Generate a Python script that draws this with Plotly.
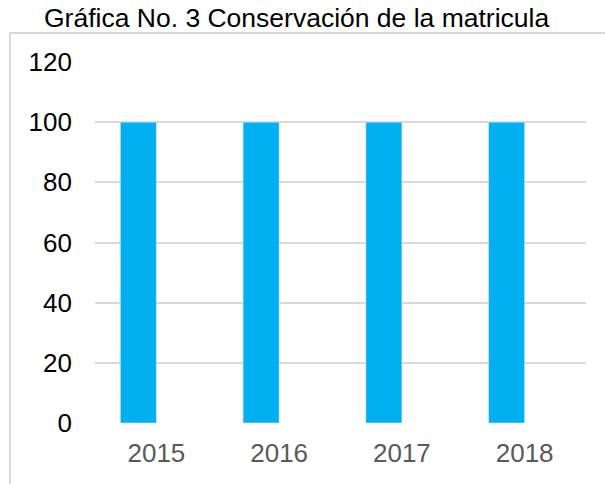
import plotly.graph_objects as go

categories = ["2015", "2016", "2017", "2018"]
values = [100, 100, 100, 100]
empty_series = [None, None, None, None]
y_ticks = [0, 20, 40, 60, 80, 100, 120]
title_text = "Gráfica No. 3 Conservación de la matricula"

W, H = 605, 484
L, R, T, B = 95, 19, 62, 61
pw, ph = W - L - R, H - T - B

def px(x):  # page x -> paper
    return (x - L) / pw

def py(y):  # page y -> paper
    return (H - B - y) / ph

fig = go.Figure()
fig.add_trace(go.Bar(x=categories, y=values, marker_color="#00B0F0", name="s1"))
fig.add_trace(go.Bar(x=categories, y=empty_series, marker_color="#ED7D31", name="s2"))

font = "Arial, Liberation Sans, sans-serif"
fig.update_layout(
    width=W, height=H,
    margin=dict(l=L, r=R, t=T, b=B),
    paper_bgcolor="white", plot_bgcolor="white",
    barmode="group", bargap=0.413, bargroupgap=0,
    showlegend=False,
    font=dict(family=font),
)
fig.update_yaxes(
    range=[0, 120], tickvals=y_ticks, showgrid=True, gridcolor="#D9D9D9", gridwidth=1.5,
    zeroline=False, showline=False, ticks="", ticklabelstandoff=22,
    tickfont=dict(family=font, size=26, color="#000000"),
)
fig.update_xaxes(
    showgrid=False, showline=False, ticks="", ticklabelstandoff=12,
    tickfont=dict(family=font, size=26, color="#595959"),
)
fig.add_annotation(
    text=title_text, xref="paper", yref="paper", x=px(296), y=py(18),
    xanchor="center", yanchor="middle", showarrow=False,
    font=dict(family=font, size=26.5, color="#000000"),
)
# frame
fig.add_shape(type="line", xref="paper", yref="paper", x0=px(10), x1=px(10), y0=py(33), y1=py(490),
              line=dict(color="#D9D9D9", width=2))
fig.add_shape(type="line", xref="paper", yref="paper", x0=px(9), x1=px(610), y0=py(33), y1=py(33),
              line=dict(color="#D9D9D9", width=2))

fig.write_html("out.html", config={"displayModeBar": False},
               post_script="document.body.style.margin='0';")
